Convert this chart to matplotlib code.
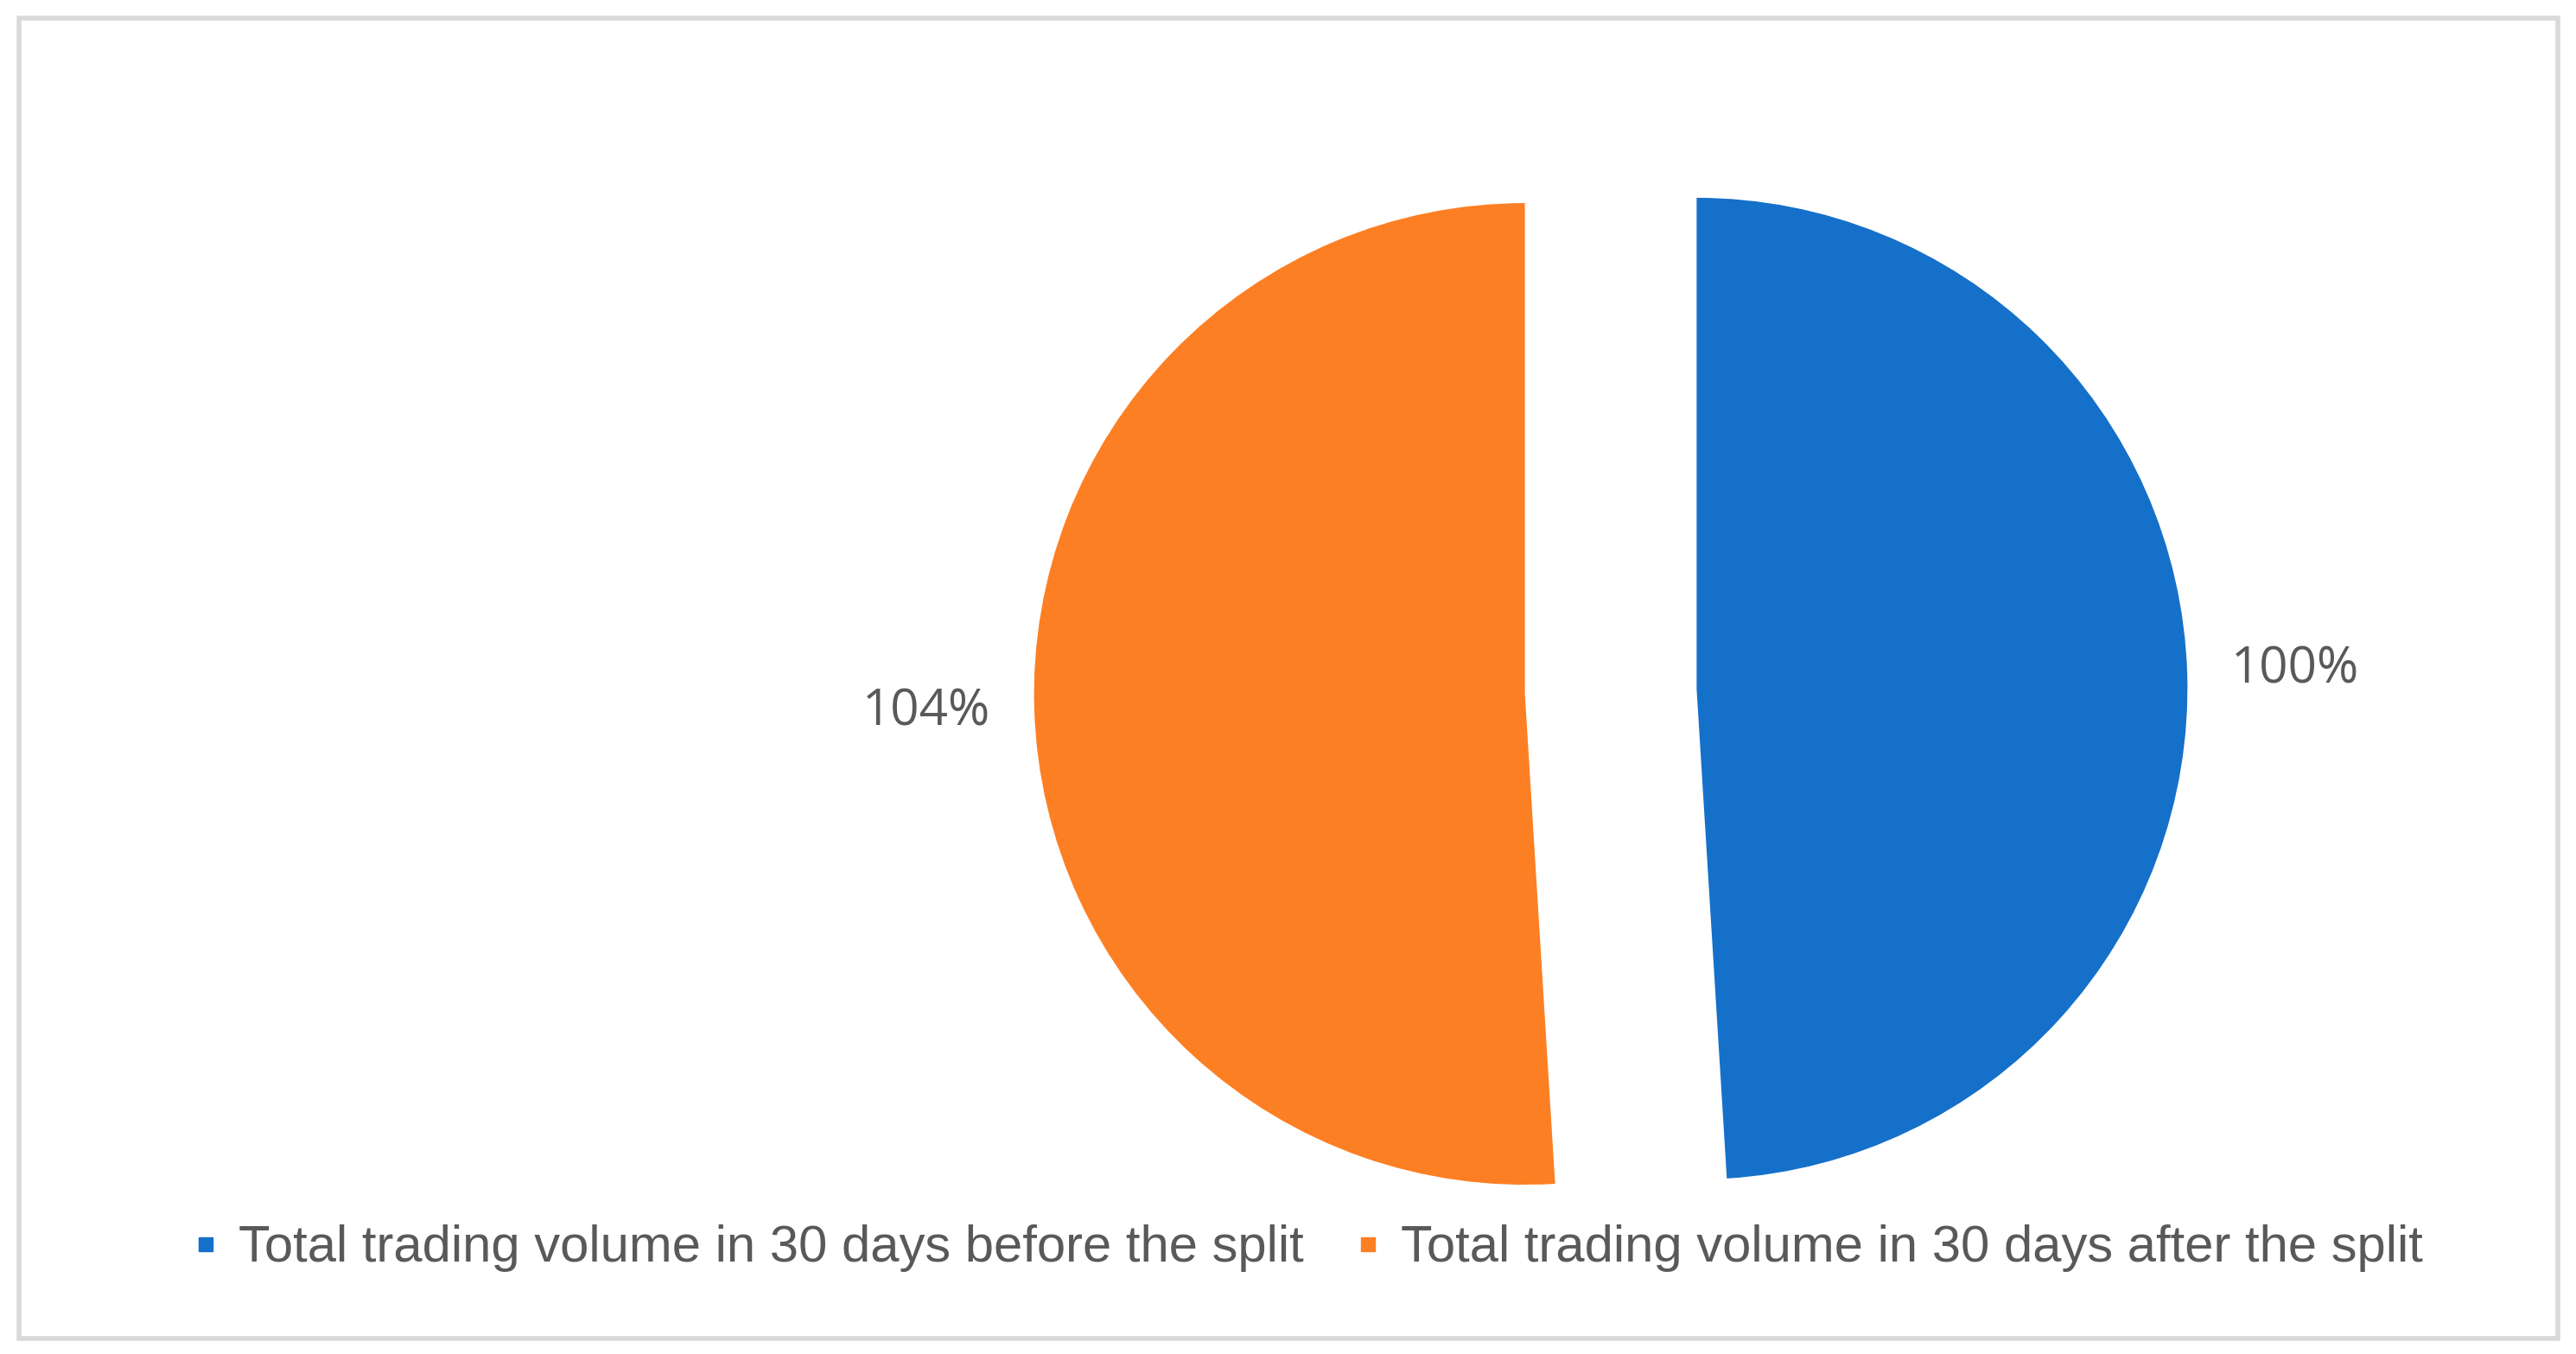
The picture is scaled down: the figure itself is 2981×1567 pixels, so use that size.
import matplotlib.pyplot as plt
from matplotlib.lines import Line2D
from matplotlib.patches import Rectangle

# volume share, before vs after the split
series = ['Total trading volume in 30 days before the split',
          'Total trading volume in 30 days after the split']
values = [100, 104]
colors = ['#1570C9', '#FD7F23']

W, H = 2981, 1567
fig = plt.figure(figsize=(W / 100, H / 100), dpi=100)

# pie placed so that centre ~ (1864, 800) px and radius ~ 568 px
cx, cy, r = 1864, 800, 568
lim = 1.45
side = 2 * lim * r
ax = fig.add_axes([(cx - side / 2) / W, (H - cy - side / 2) / H, side / W, side / H])

wedges, texts = ax.pie(values, colors=colors, startangle=90, counterclock=False,
                       explode=[0.175, 0.175],
                       labels=[f'{v}%' for v in values], labeldistance=1.22,
                       textprops=dict(fontsize=42, color='#595959', family=['Open Sans', 'DejaVu Sans']))
for t in texts:
    t.set_ha('center')
    t.set_va('center')
ax.set_xlim(-lim, lim)
ax.set_ylim(-lim, lim)
ax.set_aspect('equal')
ax.axis('off')

handles = [Line2D([], [], marker='s', linestyle='none', markersize=12,
                  markerfacecolor=c, markeredgecolor=c) for c in colors]
fig.legend(handles, series, loc='center', bbox_to_anchor=(1512 / W, 1 - 1445 / H),
           ncol=2, frameon=False, handlelength=0.6, handletextpad=0.33, columnspacing=0.95,
           prop=dict(family=['Liberation Sans', 'DejaVu Sans'], size=43),
           labelcolor='#595959')

# outer grey frame
fig.patches.append(Rectangle((22 / W, 1 - 1549 / H), (2960 - 22) / W, (1549 - 21) / H,
                             transform=fig.transFigure, fill=False,
                             edgecolor='#D9D9D9', linewidth=4))

fig.savefig('out.png', dpi=100)
